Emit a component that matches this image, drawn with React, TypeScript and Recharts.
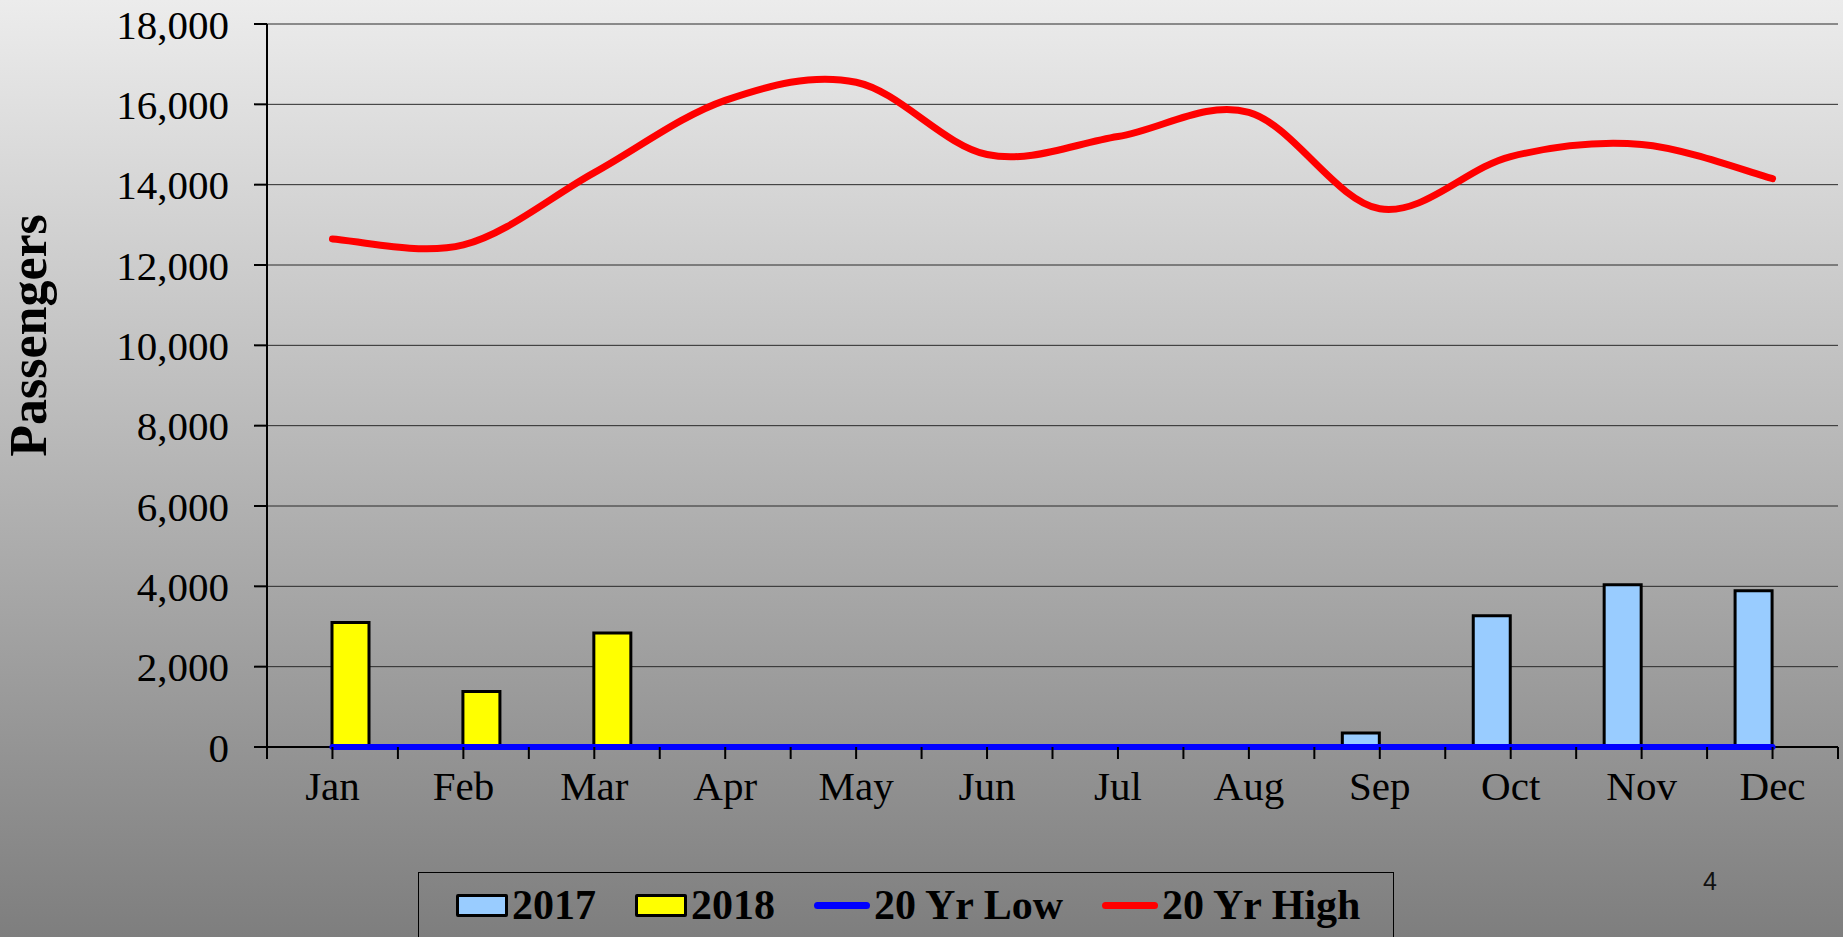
import { ComposedChart, Bar, Line, XAxis, YAxis, CartesianGrid, Legend } from 'recharts'

const months = ['Jan', 'Feb', 'Mar', 'Apr', 'May', 'Jun', 'Jul', 'Aug', 'Sep', 'Oct', 'Nov', 'Dec']
const passengers2017 = [null, null, null, null, null, null, null, null, 350, 3270, 4040, 3890]
const passengers2018 = [3100, 1380, 2840, null, null, null, null, null, null, null, null, null]
const low20Yr = [0, 0, 0, 0, 0, 0, 0, 0, 0, 0, 0, 0]
const high20Yr = [12650, 12500, 14300, 16100, 16550, 14750, 15200, 15800, 13400, 14700, 15000, 14150]
const yTicks = [0, 2000, 4000, 6000, 8000, 10000, 12000, 14000, 16000, 18000]
const seriesOrder = ['2017', '2018', '20 Yr Low', '20 Yr High']

const data = months.map((m, i) => ({
  month: m,
  y2017: passengers2017[i],
  y2018: passengers2018[i],
  low: low20Yr[i],
  high: high20Yr[i],
}))

const W = 1843
const H = 937
const PLOT_LEFT = 267
const PLOT_RIGHT = 1838
const SERIF = '"Liberation Serif", "Times New Roman", serif'

// smoothing like the spreadsheet's "smoothed line" (catmull-rom bezier)
const smoothCurve = (context: any) => {
  let pts: number[][] = []
  return {
    areaStart() {},
    areaEnd() {},
    lineStart() {
      pts = []
    },
    lineEnd() {
      const n = pts.length
      if (!n) return
      context.moveTo(pts[0][0], pts[0][1])
      for (let i = 0; i < n - 1; i++) {
        const p0 = pts[i > 0 ? i - 1 : i]
        const p1 = pts[i]
        const p2 = pts[i + 1]
        const p3 = pts[i + 2 < n ? i + 2 : i + 1]
        context.bezierCurveTo(
          p1[0] + (p2[0] - p0[0]) / 6,
          p1[1] + (p2[1] - p0[1]) / 6,
          p2[0] - (p3[0] - p1[0]) / 6,
          p2[1] - (p3[1] - p1[1]) / 6,
          p2[0],
          p2[1]
        )
      }
    },
    point(x: number, y: number) {
      pts.push([+x, +y])
    },
  }
}

// grid lines; the lowest one doubles as the category axis line (kept under the series)
const GridLine = (props: any) => {
  const { x1, x2, y1, y2, index } = props
  const isBase = index === 0
  return (
    <line
      x1={x1}
      x2={x2}
      y1={y1}
      y2={y2}
      stroke={isBase ? '#000' : '#2a2a2a'}
      strokeWidth={isBase ? 2 : 1}
    />
  )
}

const MonthTick = (props: any) => {
  const { x, y, payload, index } = props
  const half = (PLOT_RIGHT - PLOT_LEFT) / months.length / 2
  const top = y - 12
  return (
    <g>
      <line x1={x} x2={x} y1={top} y2={y} stroke="#000" strokeWidth={2} />
      <line x1={x - half} x2={x - half} y1={top} y2={y} stroke="#000" strokeWidth={2} />
      {index === months.length - 1 && (
        <line x1={x + half} x2={x + half} y1={top} y2={y} stroke="#000" strokeWidth={2} />
      )}
      <text x={x} y={y + 41} textAnchor="middle" fill="#000" fontSize={41} fontFamily={SERIF}>
        {payload.value}
      </text>
    </g>
  )
}

const PassengersLabel = (props: any) => {
  const { viewBox } = props
  const cx = 46
  const cy = viewBox.y + viewBox.height / 2 - 50
  return (
    <text
      x={cx}
      y={cy}
      transform={`rotate(-90, ${cx}, ${cy})`}
      textAnchor="middle"
      fontSize={52}
      fontWeight="bold"
      fontFamily={SERIF}
      fill="#000"
    >
      Passengers
    </text>
  )
}

const renderLegend = (props: any) => {
  const items = [...(props.payload || [])].sort(
    (a: any, b: any) => seriesOrder.indexOf(a.value) - seriesOrder.indexOf(b.value)
  )
  return (
    <div
      style={{
        width: 976,
        height: 80,
        boxSizing: 'border-box',
        border: '1.5px solid #000',
        display: 'flex',
        alignItems: 'center',
        paddingLeft: 37,
        paddingBottom: 14,
        gap: 39,
      }}
    >
      {items.map((it: any) => (
        <div key={it.value} style={{ display: 'flex', alignItems: 'center', gap: 4 }}>
          {it.type === 'rect' ? (
            <span
              style={{
                width: 46,
                height: 17,
                background: it.color,
                border: '3px solid #000',
                borderRadius: 2,
                display: 'inline-block',
              }}
            />
          ) : (
            <span
              style={{ width: 56, height: 7, background: it.color, borderRadius: 4, display: 'inline-block' }}
            />
          )}
          <span style={{ fontFamily: SERIF, fontWeight: 'bold', fontSize: 42, color: '#000', lineHeight: 1 }}>
            {it.value}
          </span>
        </div>
      ))}
    </div>
  )
}

export default function App() {
  return (
    <div
      style={{
        position: 'absolute',
        left: 0,
        top: 0,
        width: W,
        height: H,
        overflow: 'hidden',
        background: 'linear-gradient(to bottom, #ececec 0%, #7e7e7e 100%)',
      }}
    >
      <ComposedChart
        width={W}
        height={H}
        data={data}
        margin={{ top: 24, right: W - PLOT_RIGHT, left: 0, bottom: 130 }}
        barGap={0}
        barSize={37}
      >
        <CartesianGrid vertical={false} horizontal={<GridLine />} />
        <XAxis
          dataKey="month"
          height={60}
          axisLine={false}
          tickLine={false}
          tickSize={12}
          tickMargin={0}
          interval={0}
          tick={<MonthTick />}
        />
        <YAxis
          width={PLOT_LEFT}
          domain={[0, 18000]}
          ticks={yTicks}
          interval={0}
          axisLine={{ stroke: '#000', strokeWidth: 2 }}
          tickLine={{ stroke: '#000', strokeWidth: 2 }}
          tickSize={13}
          tickMargin={25}
          tick={{ fill: '#000', fontSize: 41, fontFamily: SERIF }}
          tickFormatter={(v: number) => v.toLocaleString('en-US')}
          label={<PassengersLabel />}
        />
        <Legend
          layout="horizontal"
          verticalAlign="middle"
          wrapperStyle={{ left: 418, top: 872, width: 976, height: 80 }}
          content={renderLegend}
        />
        <Bar dataKey="y2017" name="2017" fill="#99ccff" stroke="#000" strokeWidth={3} isAnimationActive={false} />
        <Bar dataKey="y2018" name="2018" fill="#ffff00" stroke="#000" strokeWidth={3} isAnimationActive={false} />
        <Line
          dataKey="low"
          name="20 Yr Low"
          type="linear"
          stroke="#0000ff"
          strokeWidth={6}
          strokeLinecap="round"
          dot={false}
          activeDot={false}
          isAnimationActive={false}
        />
        <Line
          dataKey="high"
          name="20 Yr High"
          type={smoothCurve as any}
          stroke="#ff0000"
          strokeWidth={7}
          strokeLinecap="round"
          dot={false}
          activeDot={false}
          isAnimationActive={false}
        />
      </ComposedChart>
      <div
        style={{
          position: 'absolute',
          left: 1698,
          top: 869,
          width: 24,
          textAlign: 'center',
          fontFamily: '"Liberation Sans", Arial, sans-serif',
          fontSize: 25,
          lineHeight: '25px',
          color: '#111',
        }}
      >
        4
      </div>
    </div>
  )
}
